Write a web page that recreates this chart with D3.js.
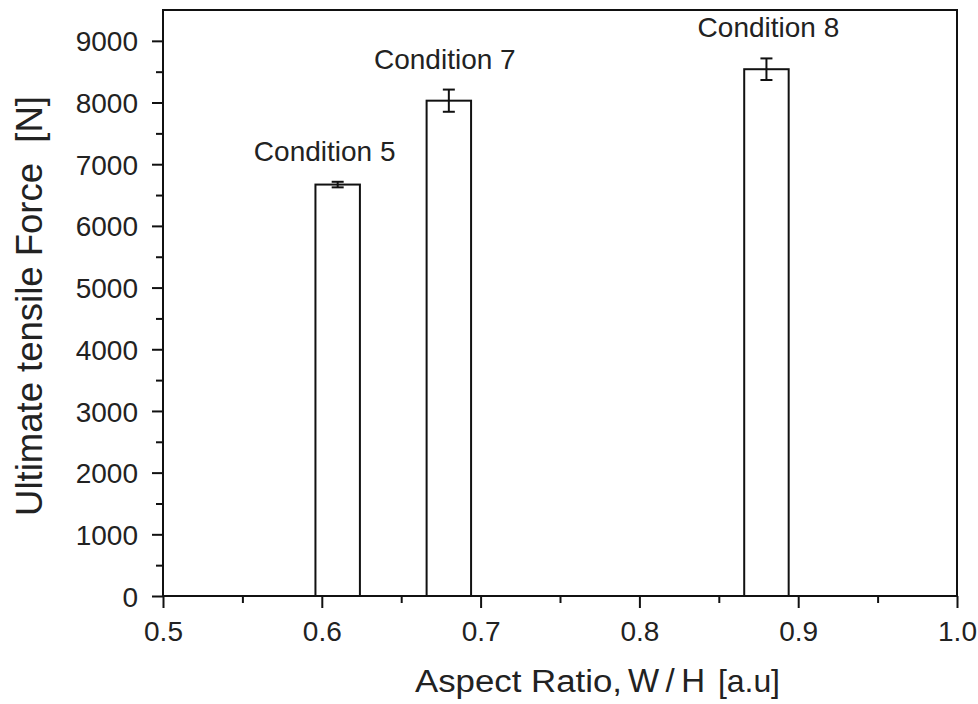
<!DOCTYPE html>
<html>
<head>
<meta charset="utf-8">
<script src="https://cdn.jsdelivr.net/npm/d3@7"></script>
<style>
  body { margin: 0; background: #fff; }
  text { font-family: "Liberation Sans", Arial, sans-serif; fill: #222; }
</style>
</head>
<body>
<div id="chart"></div>
<script>
// Data
const conditions = ["Condition 5", "Condition 7", "Condition 8"];
const aspectRatio = [0.61, 0.68, 0.88];
const tensileForce = [6670, 8030, 8540];
const forceError = [45, 180, 175];
const xTicks = [0.5, 0.6, 0.7, 0.8, 0.9, 1.0];
const yTicks = [0, 1000, 2000, 3000, 4000, 5000, 6000, 7000, 8000, 9000];

const barWidth = 0.028; // in aspect ratio units

const width = 978;
const height = 704;
const margin = { top: 10, right: 21, bottom: 108, left: 163 };
const innerWidth = width - margin.left - margin.right;
const innerHeight = height - margin.top - margin.bottom;

const svg = d3.select("#chart")
  .append("svg")
  .attr("width", width)
  .attr("height", height);

const g = svg.append("g")
  .attr("transform", `translate(${margin.left}, ${margin.top})`);

const xScale = d3.scaleLinear().domain([0.5, 1.0]).range([0, innerWidth]);
const yScale = d3.scaleLinear().domain([0, 9500]).range([innerHeight, 0]);

// Bars
const bars = conditions.map((c, i) => ({
  label: c, x: aspectRatio[i], value: tensileForce[i], err: forceError[i]
}));

g.selectAll(".bar")
  .data(bars)
  .join("rect")
  .attr("class", "bar")
  .attr("x", d => xScale(d.x - barWidth / 2))
  .attr("y", d => yScale(d.value))
  .attr("width", d => xScale(d.x + barWidth / 2) - xScale(d.x - barWidth / 2))
  .attr("height", d => yScale(0) - yScale(d.value))
  .attr("fill", "#fff")
  .attr("stroke", "#111")
  .attr("stroke-width", 2);

// Error bars
const errG = g.selectAll(".err")
  .data(bars)
  .join("g")
  .attr("class", "err")
  .attr("stroke", "#111")
  .attr("stroke-width", 2);

errG.append("line")
  .attr("x1", d => xScale(d.x)).attr("x2", d => xScale(d.x))
  .attr("y1", d => yScale(d.value - d.err)).attr("y2", d => yScale(d.value + d.err));
errG.append("line")
  .attr("x1", d => xScale(d.x) - 6).attr("x2", d => xScale(d.x) + 6)
  .attr("y1", d => yScale(d.value + d.err)).attr("y2", d => yScale(d.value + d.err));
errG.append("line")
  .attr("x1", d => xScale(d.x) - 6).attr("x2", d => xScale(d.x) + 6)
  .attr("y1", d => yScale(d.value - d.err)).attr("y2", d => yScale(d.value - d.err));

// Condition labels above bars
const labelDx = [-13, -4, 2];
g.selectAll(".cond-label")
  .data(bars)
  .join("text")
  .attr("class", "cond-label")
  .attr("x", (d, i) => xScale(d.x) + labelDx[i])
  .attr("y", d => yScale(d.value + d.err) - 21)
  .attr("text-anchor", "middle")
  .style("font-size", "28px")
  .text(d => d.label);

// Minor ticks
const xMinor = d3.range(0.55, 1.0, 0.1);
g.append("g")
  .attr("transform", `translate(0, ${innerHeight})`)
  .call(d3.axisBottom(xScale).tickValues(xMinor).tickSize(7).tickFormat(""))
  .call(a => a.select(".domain").remove())
  .selectAll("line").attr("stroke", "#111").attr("stroke-width", 2);

const yMinor = d3.range(500, 9500, 1000);
g.append("g")
  .call(d3.axisLeft(yScale).tickValues(yMinor).tickSize(7).tickFormat(""))
  .call(a => a.select(".domain").remove())
  .selectAll("line").attr("stroke", "#111").attr("stroke-width", 2);

// X axis
const xAxis = g.append("g")
  .attr("transform", `translate(0, ${innerHeight})`)
  .call(d3.axisBottom(xScale).tickValues(xTicks).tickSize(12).tickFormat(d3.format(".1f")));
xAxis.select(".domain").remove();
xAxis.selectAll("line").attr("stroke", "#111").attr("stroke-width", 2);
xAxis.selectAll("text")
  .attr("y", 45)
  .attr("dy", 0)
  .attr("fill", "#222")
  .style("font-size", "28px")
  .style("font-family", "'Liberation Sans', Arial, sans-serif");

// Y axis
const yAxis = g.append("g")
  .call(d3.axisLeft(yScale).tickValues(yTicks).tickSize(11).tickFormat(d3.format("d")));
yAxis.select(".domain").remove();
yAxis.selectAll("line").attr("stroke", "#111").attr("stroke-width", 2);
yAxis.selectAll("text")
  .attr("x", -25)
  .attr("dy", "0.36em")
  .attr("fill", "#222")
  .style("font-size", "28px")
  .style("font-family", "'Liberation Sans', Arial, sans-serif");

// Frame
g.append("rect")
  .attr("x", 0).attr("y", 0)
  .attr("width", innerWidth).attr("height", innerHeight)
  .attr("fill", "none")
  .attr("stroke", "#111")
  .attr("stroke-width", 2);

// Y axis label
svg.append("text")
  .attr("transform", `translate(42, ${margin.top + innerHeight / 2 + 3}) rotate(-90)`)
  .attr("text-anchor", "middle")
  .style("font-size", "36.5px")
  .style("white-space", "pre")
  .text("Ultimate tensile Force  [N]");

// X axis label, three pieces in slightly different sizes as in the original
const xLabelY = 692;
svg.append("text")
  .attr("x", 415).attr("y", xLabelY)
  .attr("textLength", 207).attr("lengthAdjust", "spacingAndGlyphs")
  .style("font-size", "31px")
  .text("Aspect Ratio,");
svg.append("text")
  .attr("x", 628).attr("y", xLabelY)
  .attr("textLength", 77).attr("lengthAdjust", "spacing")
  .style("font-size", "33px")
  .text("W/H");
svg.append("text")
  .attr("x", 718).attr("y", xLabelY)
  .attr("textLength", 62).attr("lengthAdjust", "spacing")
  .style("font-size", "32px")
  .text("[a.u]");
</script>
</body>
</html>
